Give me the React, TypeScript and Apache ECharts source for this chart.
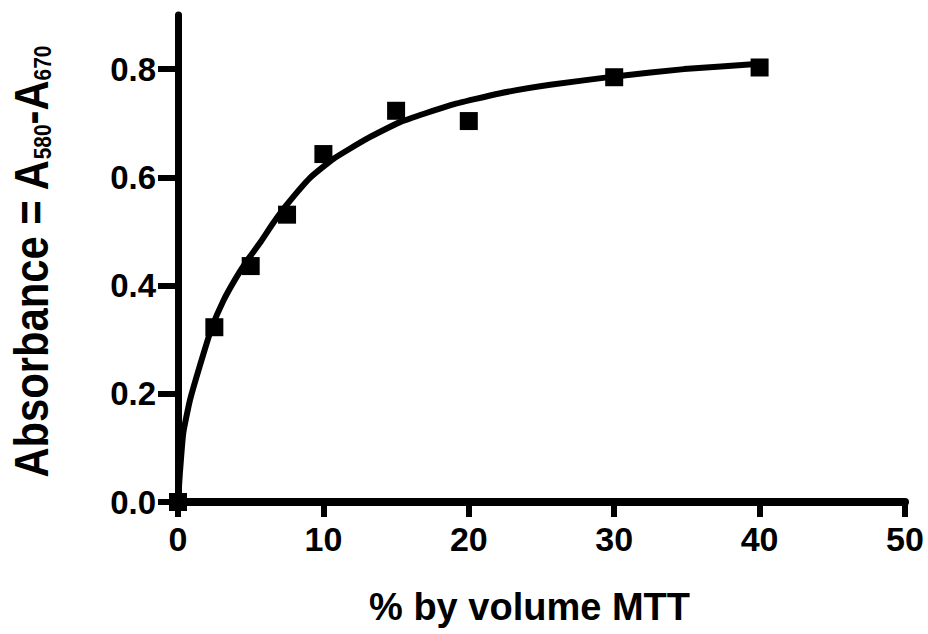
import React, { useEffect, useRef } from "react";
import * as echarts from "echarts";

const xTicks = [0, 10, 20, 30, 40, 50];
const yTicks = [0, 0.2, 0.4, 0.6, 0.8];
const pointX = [0, 2.5, 5, 7.5, 10, 15, 20, 30, 40];
const pointY = [0, 0.323, 0.436, 0.531, 0.643, 0.723, 0.704, 0.785, 0.803];
const curveX = [0, 0.12, 0.36, 0.83, 1.63, 2.32, 3.12, 3.92, 4.72, 5.64, 6.56, 7.47, 9.08, 10.68, 12.97, 15.27, 18.7, 22.1, 25.6, 30.2, 34.8, 40];
const curveY = [0, 0.05, 0.127, 0.189, 0.263, 0.322, 0.372, 0.411, 0.445, 0.479, 0.516, 0.549, 0.599, 0.634, 0.671, 0.702, 0.733, 0.755, 0.771, 0.787, 0.8, 0.81];
const xTitle = "% by volume MTT";
const yTitleMain = "Absorbance = A";
const ySub1 = "580";
const ySub2 = "670";

const FONT = "Liberation Sans, Arial, sans-serif";

export default function App() {
  const ref = useRef<HTMLDivElement>(null);
  useEffect(() => {
    if (!ref.current) return;
    const chart = echarts.init(ref.current, undefined, { renderer: "svg" });
    chart.setOption({
      animation: false,
      backgroundColor: "#ffffff",
      grid: { left: 178, right: 23, top: 15, bottom: 132, containLabel: false },
      xAxis: {
        type: "value",
        min: 0,
        max: 50,
        interval: 10,
        name: xTitle,
        nameLocation: "middle",
        nameGap: 86,
        nameTextStyle: { fontFamily: FONT, fontWeight: "bold", fontSize: 38, color: "#000", padding: [0, 24, 0, 0] },
        axisLine: { show: true, onZero: false, lineStyle: { color: "#000", width: 8 } },
        axisTick: { show: true, length: 15, lineStyle: { color: "#000", width: 6 }, customValues: xTicks },
        axisLabel: { customValues: xTicks, margin: 20, fontFamily: FONT, fontWeight: "bold", fontSize: 34, color: "#000" },
        splitLine: { show: false },
      },
      yAxis: {
        type: "value",
        min: 0,
        max: 0.9,
        interval: 0.2,
        axisLine: { show: true, onZero: false, lineStyle: { color: "#000", width: 7 } },
        axisTick: { show: true, length: 20, lineStyle: { color: "#000", width: 6 }, customValues: yTicks },
        axisLabel: {
          customValues: yTicks,
          margin: 22,
          fontFamily: FONT,
          fontWeight: "bold",
          fontSize: 33,
          color: "#000",
          formatter: (v: number) => v.toFixed(1),
        },
        splitLine: { show: false },
      },
      graphic: [
        {
          type: "text",
          x: 31,
          y: 262,
          rotation: Math.PI / 2,
          scaleX: 0.87,
          style: {
            text: `${yTitleMain}{sub|${ySub1}}-A{sub|${ySub2}}`,
            font: `bold 48px ${FONT}`,
            fill: "#000",
            align: "center",
            verticalAlign: "middle",
            rich: {
              sub: { font: `bold 24px ${FONT}`, fill: "#000", verticalAlign: "bottom" },
            },
          },
        },
      ],
      series: [
        {
          type: "line",
          data: curveX.map((x, i) => [x, curveY[i]]),
          smooth: 0.15,
          showSymbol: false,
          symbol: "none",
          lineStyle: { color: "#000", width: 6 },
          z: 2,
        },
        {
          type: "scatter",
          data: pointX.map((x, i) => [x, pointY[i]]),
          symbol: "rect",
          symbolSize: 18,
          itemStyle: { color: "#000", opacity: 1 },
          z: 3,
        },
      ],
    });
    return () => chart.dispose();
  }, []);
  return <div ref={ref} style={{ width: 928, height: 634, position: "absolute", left: 0, top: 0 }} />;
}
